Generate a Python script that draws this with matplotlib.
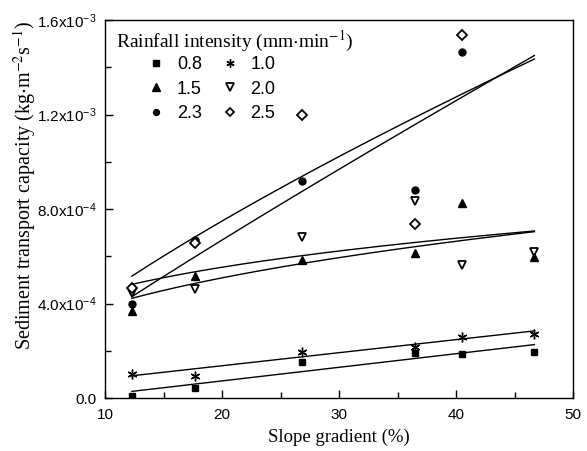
import numpy as np
import matplotlib
matplotlib.use("Agg")
import matplotlib.pyplot as plt
from matplotlib.ticker import FixedLocator, MultipleLocator, FuncFormatter

plt.rcParams['mathtext.fontset'] = 'custom'
plt.rcParams['mathtext.rm'] = 'Liberation Sans'
plt.rcParams['mathtext.it'] = 'Liberation Sans:italic'
plt.rcParams['mathtext.bf'] = 'Liberation Sans:bold'

# Slope gradient (%)
slope = np.array([12.3, 17.7, 26.85, 36.5, 40.5, 46.7])

# Sediment transport capacity (x1e-4 kg m-2 s-1)
labels = ['0.8', '1.0', '1.5', '2.0', '2.3', '2.5']
tc_08 = np.array([0.10, 0.44, 1.54, 1.92, 1.86, 1.96])
tc_10 = np.array([1.00, 0.94, 1.95, 2.15, 2.60, 2.72])
tc_15 = np.array([3.68, 5.18, 5.84, 6.15, 8.24, 5.95])
tc_20 = np.array([4.45, 4.61, 6.83, 8.35, 5.62, 6.18])
tc_23 = np.array([3.99, 6.69, 9.18, 8.80, 14.63, np.nan])
tc_25 = np.array([4.64, 6.55, 11.98, 7.37, 15.37, np.nan])

# Fitted curves (units 1e-4): linear (a + b*x) for 0.8, 1.0; power (a*x^b) for others
lin_08 = (-0.428, 0.05756)
lin_10 = (0.261, 0.05523)
pow_15 = (1.6115, 0.3836)
pow_20 = (2.3309, 0.2887)
pow_23 = (0.7535, 0.7666)
pow_25 = (0.4342, 0.9127)

scale = 1e-4

W, H = 587, 451
fig = plt.figure(figsize=(W/100, H/100), dpi=100)
ax = fig.add_axes([105/W, 53/H, 468/W, 378/H])

mk = dict(color='black', linestyle='none')
h08, = ax.plot(slope, tc_08*scale, marker='s', markersize=4.5, label=labels[0], **mk)
h10, = ax.plot(slope, tc_10*scale, marker=(6, 2, 0), markersize=7, markeredgewidth=1.0, label=labels[1], **mk)
h15, = ax.plot(slope, tc_15*scale, marker='^', markersize=6, label=labels[2], **mk)
h20, = ax.plot(slope, tc_20*scale, marker='v', markersize=6, markerfacecolor='white', markeredgewidth=1.3, label=labels[3], **mk)
h23, = ax.plot(slope, tc_23*scale, marker='o', markersize=5, label=labels[4], **mk)
h25, = ax.plot(slope, tc_25*scale, marker='D', markersize=5, markerfacecolor='white', markeredgewidth=1.3, label=labels[5], **mk)

xf = np.linspace(slope[0], slope[-1], 200)
for a, b in (lin_08, lin_10):
    ax.plot(xf, (a + b*xf)*scale, color='black', lw=1.0)
for a, b in (pow_15, pow_20, pow_23, pow_25):
    ax.plot(xf, a*xf**b*scale, color='black', lw=1.0)

ax.set_xlim(10, 50)
ax.set_ylim(0, 1.6e-3)
ax.xaxis.set_major_locator(MultipleLocator(10))
ax.xaxis.set_minor_locator(MultipleLocator(5))
ax.yaxis.set_major_locator(FixedLocator([0, 4e-4, 8e-4, 1.2e-3, 1.6e-3]))
ax.yaxis.set_minor_locator(FixedLocator([2e-4, 6e-4, 1e-3, 1.4e-3]))

ytl = {0: '0.0', 1: r'4.0x10$^{\mathregular{-4}}$', 2: r'8.0x10$^{\mathregular{-4}}$',
       3: r'1.2x10$^{\mathregular{-3}}$', 4: r'1.6x10$^{\mathregular{-3}}$'}
ax.yaxis.set_major_formatter(FuncFormatter(lambda v, p: ytl.get(int(round(v/4e-4)), '')))

ax.tick_params(which='both', direction='in', top=False, right=False, labelsize=11)
ax.tick_params(which='major', length=6, width=1)
ax.tick_params(which='minor', length=4, width=1)
for lbl in ax.get_xticklabels() + ax.get_yticklabels():
    lbl.set_fontfamily('Liberation Sans')
ax.tick_params(axis='x', pad=7)
ax.tick_params(axis='y', pad=6)

ax.set_xlabel('Slope gradient (%)', fontfamily='Liberation Serif', fontsize=13.5)
ax.xaxis.set_label_coords(0.5, -0.082)
ax.set_ylabel(r'Sediment transport capacity (kg$\cdot$m$^{-2}$s$^{-1}$)',
              fontfamily='Liberation Serif', fontsize=14.5, math_fontfamily='stix')
ax.yaxis.set_label_coords(-0.143, 0.563)

handles = [h08, h10, h15, h20, h23, h25]
order = [0, 2, 4, 1, 3, 5]  # row-wise reading order in two columns
leg = ax.legend([handles[i] for i in order], [labels[i] for i in order],
                ncol=2, frameon=False, loc='upper left',
                bbox_to_anchor=((147-105)/468, (398-56)/378),
                prop={'family': 'Liberation Sans', 'size': 13},
                handlelength=1.0, handletextpad=0.65, columnspacing=1.05,
                labelspacing=0.42, borderpad=0.0, borderaxespad=0.0, markerscale=0.85)

fig.text(116/W, 1-47/H, r'Rainfall intensity (mm$\cdot$min$^{-1}$)',
         fontfamily='Liberation Serif', fontsize=14, math_fontfamily='stix',
         ha='left', va='baseline')

for sp in ax.spines.values():
    sp.set_linewidth(1.0)

fig.savefig('out.png', dpi=100)
